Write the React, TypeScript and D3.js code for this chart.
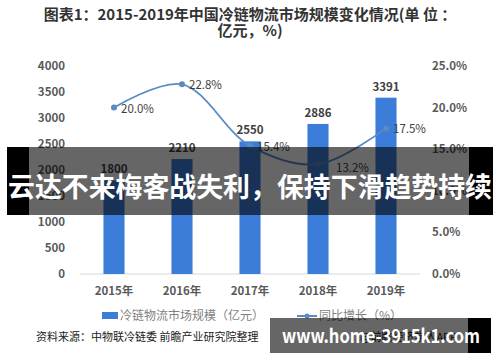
import React from 'react';
import * as d3 from 'd3';

// chart data
const years = ['2015年', '2016年', '2017年', '2018年', '2019年'];
const marketSize = [1800, 2210, 2550, 2886, 3391];
const growth = [20.0, 22.8, 15.4, 13.2, 17.5];
const leftTicks = [0, 500, 1000, 1500, 2000, 2500, 3000, 3500, 4000];
const rightTicks = [0, 5, 10, 15, 20, 25];

const W = 500;
const H = 362;
const BAR = '#3b7dd8';
const LINE = '#5a8ac6';
const TXT = '#595959';
const SANS = '"Noto Sans CJK SC", "Noto Sans", sans-serif';

const App: React.FC = () => {
  const x = d3.scaleBand<string>()
    .domain(years)
    .range([80, 420])
    .paddingInner(0.69)
    .paddingOuter(0.345);
  const bw = x.bandwidth();
  const cx = (i: number) => (x(years[i]) as number) + bw / 2;

  const yL = d3.scaleLinear().domain([0, 4000]).range([274, 66]);
  const yR = d3.scaleLinear().domain([0, 25]).range([274, 66]);

  const linePath = d3.line<number>()
    .x((_, i) => cx(i))
    .y(d => yR(d))
    .curve(d3.curveCatmullRom)(growth) as string;

  return (
    <svg width={W} height={H} style={{ position: 'absolute', left: 0, top: 0, background: '#fff' }}
      fontFamily={SANS}>
      <rect width={W} height={H} fill="#fff" />

      {/* title */}
      <text x={250} y={20} textAnchor="middle" fontSize={15} fontWeight="bold" fill="#333">
        图表1：2015-2019年中国冷链物流市场规模变化情况(单 位 ：
      </text>
      <text x={250} y={36} textAnchor="middle" fontSize={15} fontWeight="bold" fill="#333">
        亿元，%)
      </text>

      {/* left axis */}
      {leftTicks.map(t => (
        <text key={'l' + t} x={65} y={yL(t) + 4} textAnchor="end" fontSize={11.5} fontWeight="bold" fill={TXT}>{t}</text>
      ))}
      {/* right axis */}
      {rightTicks.map(t => (
        <text key={'r' + t} x={432} y={yR(t) + 4} fontSize={11.5} fontWeight="bold" fill={TXT}>{t.toFixed(1)}%</text>
      ))}

      {/* baseline */}
      <line x1={80} x2={420} y1={yL(0)} y2={yL(0)} stroke="#d9d9d9" strokeWidth={1} />

      {/* bars */}
      {marketSize.map((v, i) => (
        <g key={'b' + i}>
          <rect x={x(years[i])} y={yL(v)} width={bw} height={yL(0) - yL(v)} fill={BAR} />
          <text x={cx(i)} y={yL(v) - 7} textAnchor="middle" fontSize={11.5} fontWeight="bold" fill="#404040">{v}</text>
        </g>
      ))}

      {/* growth line */}
      <path d={linePath} fill="none" stroke={LINE} strokeWidth={1.8} />
      {growth.map((g, i) => (
        <g key={'p' + i}>
          <circle cx={cx(i)} cy={yR(g)} r={3} fill={LINE} />
          <text x={cx(i) + (i === 3 ? 18 : 7)} y={yR(g) + (i === 3 ? 8 : 5)} fontSize={11.5} fill="#404040">
            {g.toFixed(1)}%
          </text>
        </g>
      ))}

      {/* x labels */}
      {years.map((y, i) => (
        <text key={'x' + i} x={cx(i)} y={295} textAnchor="middle" fontSize={11.5} fontWeight="bold" fill={TXT}>{y}</text>
      ))}

      {/* legend */}
      <rect x={102} y={312} width={16} height={7} fill={BAR} />
      <text x={120} y={320} fontSize={12} fill="#7f7f7f">冷链物流市场规模（亿元）</text>
      <line x1={297} x2={317} y1={316} y2={316} stroke={LINE} strokeWidth={2} />
      <circle cx={307} cy={316} r={2.5} fill={LINE} />
      <text x={319} y={320} fontSize={12} fill="#7f7f7f">同比增长（%）</text>

      {/* source */}
      <text x={36} y={341} fontSize={11} fill="#222">资料来源：中物联冷链委 前瞻产业研究院整理</text>
      <text x={360} y={341} fontSize={11} fill="#222">@前瞻经济学人APP</text>

      {/* headline banner */}
      <rect x={7} y={147} width={22} height={68} fill="#000" />
      <rect x={469} y={147} width={24} height={68} fill="#000" />
      <rect x={29} y={147} width={440} height={68} fill="rgba(0,0,0,0.6)" />
      <text x={250} y={197} textAnchor="middle" fontSize={27} fontWeight="bold" fill="#fff"
        textLength={484} lengthAdjust="spacingAndGlyphs">云达不来梅客战失利，保持下滑趋势持续</text>

      {/* site watermark */}
      <rect x={270} y={318} width={198} height={35} fill="rgba(0,0,0,0.6)" />
      <rect x={468} y={318} width={23} height={35} fill="#000" />
      <text x={282} y={343} fontSize={19} fontWeight="bold" fill="#fff"
        textLength={198} lengthAdjust="spacingAndGlyphs">www.home-3915k1.com</text>
    </svg>
  );
};

export default App;
